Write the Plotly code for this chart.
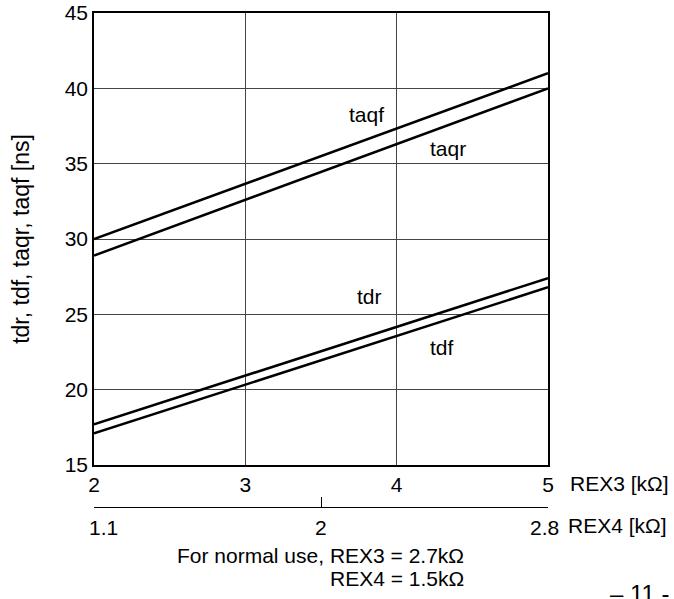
import plotly.graph_objects as go

# REX3 [kOhm] axis values
rex3 = [2, 5]
taqf = [30.0, 41.0]
taqr = [28.9, 40.0]
tdr = [17.7, 27.4]
tdf = [17.1, 26.8]

# curve labels
label_text = ["taqf", "taqr", "tdr", "tdf"]
label_x = [3.8, 4.34, 3.82, 4.30]
label_y = [38.25, 36.0, 26.2, 22.8]

# REX4 secondary scale: tick labels and their positions on the REX3 scale
rex4_ticktext = ["1.1", "2", "2.8"]
rex4_tickpos = [2, 3.5, 5]
rex4_label_shift = [9, 0, -4]

rex3_ticks = [2, 3, 4, 5]
y_ticks = [15, 20, 25, 30, 35, 40, 45]

FONT = "Liberation Sans, Arial, sans-serif"
FS = 21
W, H = 674, 599
ML, MR, MT, MB = 94, 126, 13, 60
paper_h = H - MT - MB
plot_bottom_px = 465
rex4_line_px = 507


def py(px):
    return (H - MB - px) / paper_h


ydom0 = py(plot_bottom_px)
rex4_pos = py(rex4_line_px)

fig = go.Figure()
for ys in [taqf, taqr, tdr, tdf]:
    fig.add_trace(go.Scatter(x=rex3, y=ys, mode="lines",
                             line=dict(color="black", width=2.5),
                             showlegend=False, hoverinfo="skip"))
# dummy trace to activate the REX4 axis
fig.add_trace(go.Scatter(x=rex4_tickpos, y=[None] * len(rex4_tickpos), xaxis="x2",
                         mode="lines", showlegend=False, hoverinfo="skip"))

for t, x, y in zip(label_text, label_x, label_y):
    fig.add_annotation(x=x, y=y, text=t, showarrow=False,
                       font=dict(family=FONT, size=FS, color="black"))

fig.update_layout(
    width=W, height=H,
    margin=dict(l=ML, r=MR, t=MT, b=MB, autoexpand=False),
    paper_bgcolor="white", plot_bgcolor="white",
    font=dict(family=FONT, size=FS, color="black"),
    xaxis=dict(range=[2, 5], tickvals=rex3_ticks, ticktext=[str(v) for v in rex3_ticks],
               showgrid=True, gridcolor="#444444", gridwidth=1,
               showline=True, linecolor="black", linewidth=1.5, mirror=True,
               ticks="", zeroline=False, tickfont=dict(size=FS), automargin=False),
    yaxis=dict(range=[15, 45], tickvals=y_ticks, domain=[ydom0, 1],
               showgrid=True, gridcolor="#444444", gridwidth=1,
               showline=True, linecolor="black", linewidth=1.5, mirror=True,
               ticks="", zeroline=False, tickfont=dict(size=FS), automargin=False,
               title=dict(text="tdr, tdf, taqr, taqf [ns]", font=dict(size=23), standoff=29)),
    xaxis2=dict(range=[2, 5], overlaying="x", anchor="free", position=rex4_pos,
                side="bottom", tickvals=rex4_tickpos, showticklabels=False,
                showgrid=False, zeroline=False, showline=True, linecolor="black",
                linewidth=1, ticks="inside", ticklen=10, tickcolor="black",
                automargin=False),
)

# REX4 tick labels
for t, x, s in zip(rex4_ticktext, rex4_tickpos, rex4_label_shift):
    fig.add_annotation(xref="x", yref="paper", x=x, y=rex4_pos, yshift=-7, xshift=s,
                       text=t, showarrow=False, xanchor="center", yanchor="top",
                       font=dict(size=FS))

fig.add_annotation(xref="paper", yref="paper", x=1.0, y=py(483),
                   xshift=20, text="REX3 [kΩ]", showarrow=False, xanchor="left",
                   yanchor="middle", font=dict(size=FS))
fig.add_annotation(xref="paper", yref="paper", x=1.0, y=py(525),
                   xshift=18, text="REX4 [kΩ]", showarrow=False, xanchor="left",
                   yanchor="middle", font=dict(size=FS))
fig.add_annotation(xref="paper", yref="paper", x=(466 - ML) / (W - ML - MR),
                   y=py(555), text="For normal use, REX3 = 2.7kΩ",
                   showarrow=False, xanchor="right", yanchor="middle", font=dict(size=FS))
fig.add_annotation(xref="paper", yref="paper", x=(466 - ML) / (W - ML - MR),
                   y=py(578), text="REX4 = 1.5kΩ",
                   showarrow=False, xanchor="right", yanchor="middle", font=dict(size=FS))
fig.add_annotation(xref="paper", yref="paper", x=(608 - ML) / (W - ML - MR),
                   y=py(593), text="– 11 -",
                   showarrow=False, xanchor="left", yanchor="middle", font=dict(size=24))

fig.write_html("out.html", config={"displayModeBar": False},
               post_script="document.body.style.margin='0';")
